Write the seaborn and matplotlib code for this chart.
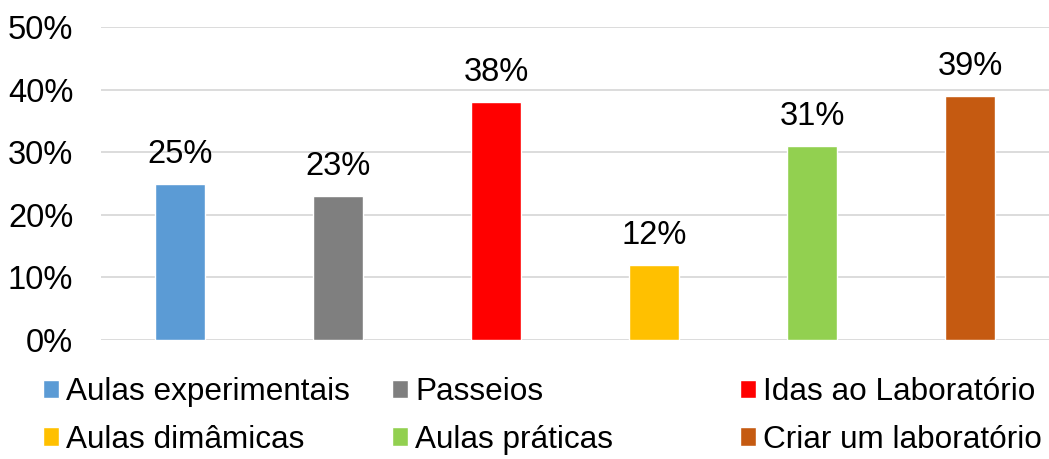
import seaborn as sns
import matplotlib.pyplot as plt
from matplotlib.patches import Patch

categorias = ["Aulas experimentais", "Passeios", "Idas ao Laboratório",
              "Aulas dimâmicas", "Aulas práticas", "Criar um laboratório"]
valores = [25, 23, 38, 12, 31, 39]
cores = ["#5B9BD5", "#7F7F7F", "#FF0000", "#FFC000", "#92D050", "#C55A11"]
yticks = [0, 10, 20, 30, 40, 50]

sns.set_style("white")
plt.rcParams['font.family'] = ['Liberation Sans', 'DejaVu Sans']
plt.rcParams['text.color'] = 'black'
plt.rcParams['ytick.color'] = 'black'

fig = plt.figure(figsize=(10.49, 4.59), dpi=100)
ax = fig.add_axes([101/1049, 1 - 340/459, 1 - 101/1049, (340 - 27)/459])

sns.barplot(x=categorias, y=valores, hue=categorias, palette=cores,
            saturation=1, width=0.32, legend=False, ax=ax, zorder=3)

for i, v in enumerate(valores):
    ax.text(i, v + 2.2, f"{v}%", ha="center", va="bottom", fontsize=23.5)

ax.set_ylim(0, 50)
ax.set_xlim(-0.5, len(valores) - 0.5)
ax.set_yticks(yticks)
ax.set_yticklabels([f"{t}%" for t in yticks], fontsize=23.5)
ax.tick_params(axis="y", length=0, pad=20)
ax.set_xticks([])
ax.yaxis.grid(True, color="#D9D9D9", linewidth=1.3, zorder=0)
sns.despine(ax=ax, left=True, bottom=True, top=True, right=True)

# legend: three columns of two rows, placed like the original
colunas = [[0, 3], [1, 4], [2, 5]]
xs = [43, 392, 740]
for col, x0 in zip(colunas, xs):
    handles = [Patch(facecolor=cores[i], label=categorias[i]) for i in col]
    leg = fig.legend(handles=handles, ncol=1, loc="center left",
                     bbox_to_anchor=(x0/1049, 1 - 416/459),
                     frameon=False, fontsize=22.7, handlelength=0.52,
                     handleheight=0.52, handletextpad=0.22, labelspacing=0.56,
                     borderaxespad=0.0, borderpad=0.0)

fig.savefig("out.png", dpi=100)
